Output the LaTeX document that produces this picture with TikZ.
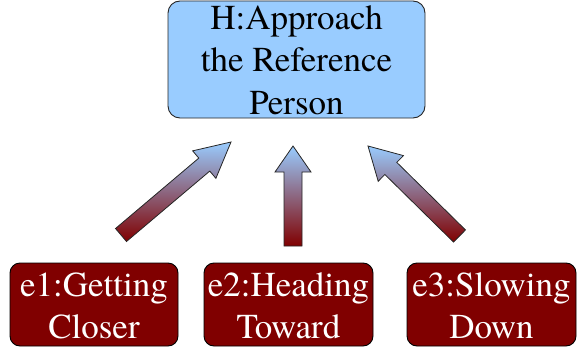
\documentclass[tikz,border=0pt]{standalone}
\usepackage{fontspec}
\newfontfamily\labelface{texgyretermes-regular.otf}
\usetikzlibrary{calc}

\definecolor{skyfill}{HTML}{99CCFF}
\definecolor{maroonfill}{HTML}{800000}

\tikzset{
  goalbox/.style={draw=black!85, line width=0.9pt, fill=skyfill,
    rounded corners=12pt, inner sep=0pt,
    minimum width=257pt, minimum height=117pt,
    align=center, font=\labelface\fontsize{35}{42.5}\selectfont,
    text height=113pt, text depth=4pt},
  evbox/.style={draw=black, line width=0.9pt, fill=maroonfill,
    rounded corners=10pt, inner sep=0pt,
    minimum width=169pt, minimum height=83pt,
    align=center, text=white, font=\labelface\fontsize{35}{42}\selectfont,
    text height=75pt, text depth=8pt},
  blockarrow/.style={draw=black!85, line width=0.8pt, line join=miter,
    top color=skyfill, bottom color=maroonfill}
}

% block arrow from tail #1 to tip #2: shaft half width #3, head half width #4, head length #5
\newcommand\drawblockarrow[5]{%
  \coordinate (#1-base) at ($(#2)!#5!(#1)$);
  \path[blockarrow]
    ($(#1)!#3!90:(#2)$) -- ($(#1-base)!#3!90:(#2)$) -- ($(#1-base)!#4!90:(#2)$)
    -- (#2)
    -- ($(#1-base)!#4!-90:(#2)$) -- ($(#1-base)!#3!-90:(#2)$) -- ($(#1)!#3!-90:(#2)$)
    -- cycle;
}

\begin{document}
\begin{tikzpicture}[x=1pt, y=-1pt]
  \useasboundingbox (0,0) rectangle (577,350);

  % hypothesis
  \node[goalbox] (H) at (296.5,59.5) {H:Approach\\the Reference\\Person};

  % evidence boxes
  \node[evbox, minimum width=168pt] (e1) at (94,304.5) {e1:Getting\\Closer};
  \node[evbox] (e2) at (288.5,304.5) {e2:Heading\\Toward};
  \node[evbox] (e3) at (491.5,304.5) {e3:Slowing\\Down};

  % arrow tails and tips
  \coordinate (t1) at (121,235);   \coordinate (p1) at (231,142);
  \coordinate (t2) at (293,246);   \coordinate (p2) at (293,146);
  \coordinate (t3) at (459.5,236); \coordinate (p3) at (368,146);

  \drawblockarrow{t1}{p1}{8.5pt}{18pt}{35pt}
  \drawblockarrow{t2}{p2}{9pt}{18pt}{26pt}
  \drawblockarrow{t3}{p3}{8.5pt}{18pt}{32pt}
\end{tikzpicture}
\end{document}
